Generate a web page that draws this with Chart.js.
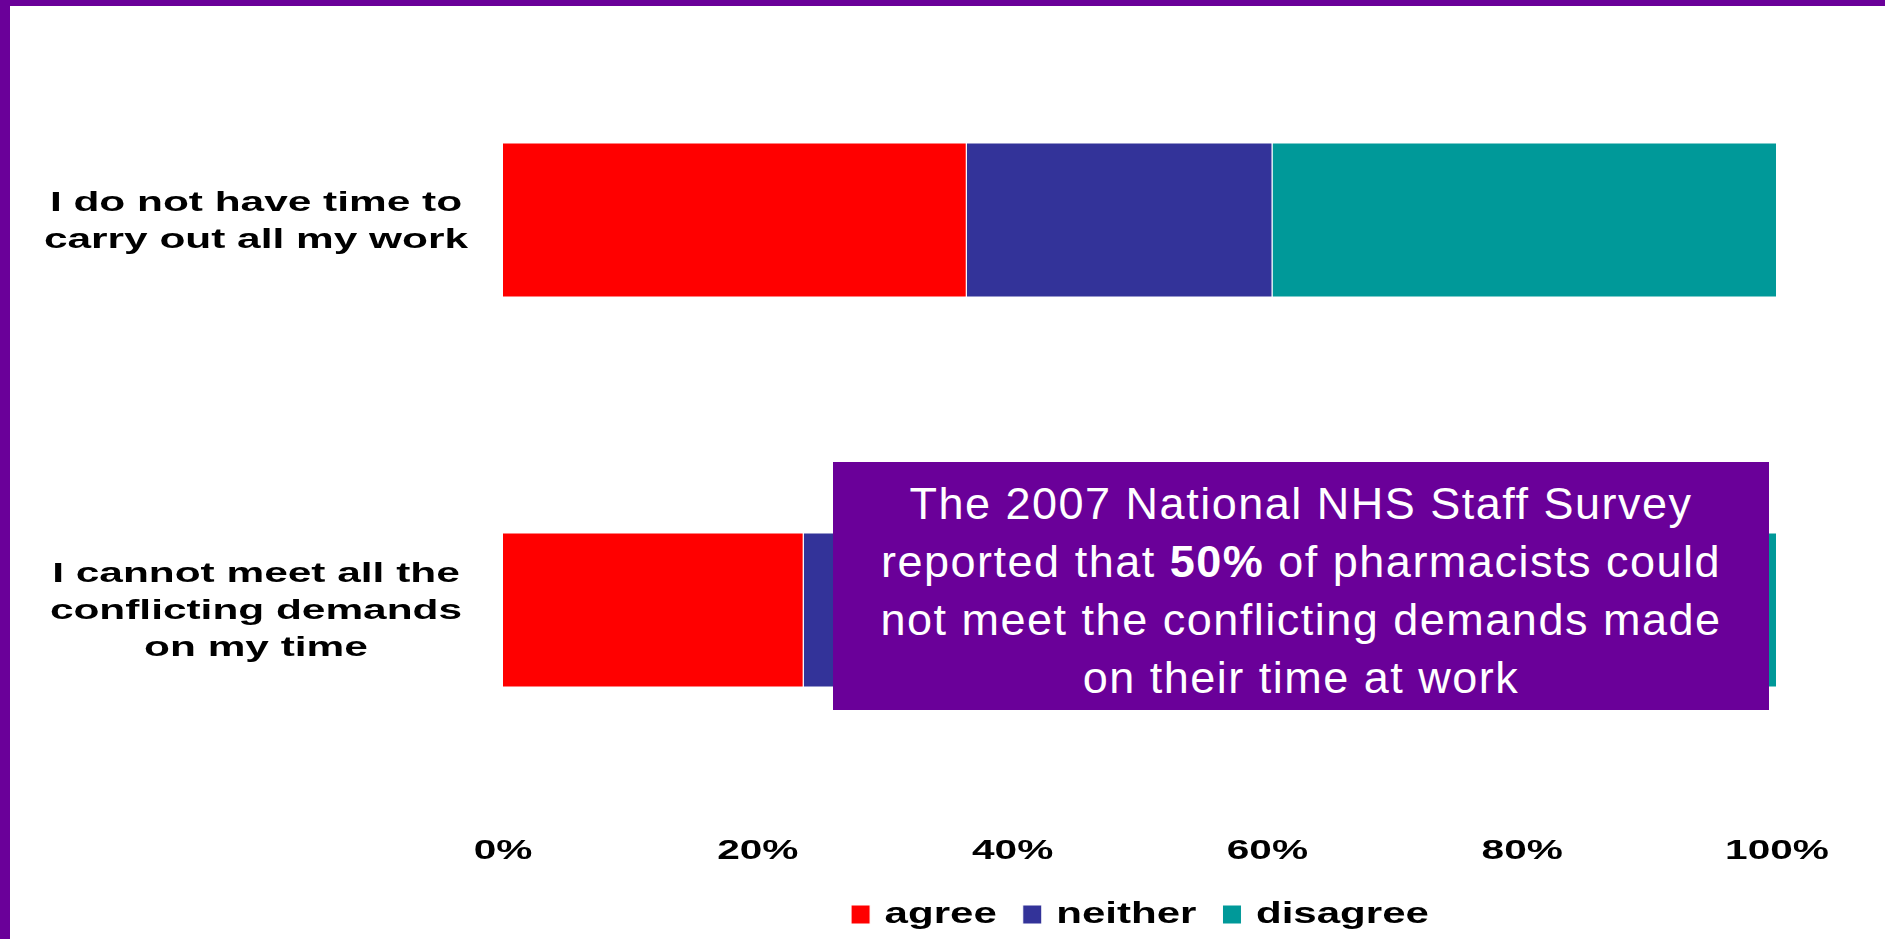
<!DOCTYPE html>
<html>
<head>
<meta charset="utf-8">
<script src="https://cdn.jsdelivr.net/npm/chart.js@4/dist/chart.umd.min.js"></script>
<style>
  html, body { margin: 0; padding: 0; background: #fff; }
  #page {
    position: relative;
    width: 1885px;
    height: 939px;
    overflow: hidden;
    background: #fff;
  }
  #frame {
    position: absolute;
    left: 0; top: 0;
    width: 1885px; height: 939px;
    box-sizing: border-box;
    border-left: 10px solid #6a0099;
    border-top: 6px solid #6a0099;
  }
  #chart { position: absolute; left: 0; top: 0; }
  #note {
    position: absolute;
    left: 833px; top: 462px;
    width: 936px; height: 248px;
    box-sizing: border-box;
    padding-top: 13px;
    background: #6a0099;
    color: #fff;
    font-family: "Liberation Sans", Arial, sans-serif;
    font-size: 45px;
    line-height: 58px;
    letter-spacing: 1.5px;
    text-align: center;
  }
</style>
</head>
<body>
<div id="page">
  <div id="frame"></div>
  <canvas id="chart" width="1885" height="939"></canvas>
  <div id="note">The 2007 National NHS Staff Survey<br>reported that <b>50%</b> of pharmacists could<br>not meet the conflicting demands made<br>on their time at work</div>
</div>
<script>
// survey statements (multi-line labels as drawn)
const statements = [
    ["I do not have time to", "carry out all my work"],
    ["I cannot meet all the", "conflicting demands", "on my time"]
];
const seriesNames = ["agree", "neither", "disagree"];
const seriesColors = ["#ff0000", "#333399", "#009999"];

// percent of respondents
const agree = [36.4, 23.6];
const neither = [24.0, 30.0];
const disagree = [39.6, 46.4];

const tickStep = 20;

// the chart text in the picture is stretched sideways
const stretchFor = (font) => font.includes('27px') ? 1.57 : 1.45;
const wideText = {
    id: 'wideText',
    beforeInit(chart) {
        const c = chart.ctx;
        const fill = c.fillText.bind(c);
        const measure = c.measureText.bind(c);
        c.fillText = function (text, x, y) {
            const sx = stretchFor(c.font);
            c.save();
            c.translate(x, y);
            c.scale(sx, 1);
            fill(text, 0, 0);
            c.restore();
        };
        c.measureText = function (text) {
            const m = measure(text);
            return {
                width: m.width * stretchFor(c.font),
                actualBoundingBoxAscent: m.actualBoundingBoxAscent,
                actualBoundingBoxDescent: m.actualBoundingBoxDescent
            };
        };
    }
};

const boldFont = "'Liberation Sans', Arial, sans-serif";
Chart.defaults.color = '#000';

const ctx = document.getElementById('chart');
const chart = new Chart(ctx, {
    type: 'bar',
    data: {
        labels: statements,
        datasets: [
            { label: seriesNames[0], data: agree, backgroundColor: seriesColors[0] },
            { label: seriesNames[1], data: neither, backgroundColor: seriesColors[1] },
            { label: seriesNames[2], data: disagree, backgroundColor: seriesColors[2] }
        ]
    },
    options: {
        indexAxis: 'y',
        responsive: false,
        animation: false,
        layout: { padding: { top: 25, right: 108, bottom: 0, left: 0 } },
        datasets: {
            bar: {
                barPercentage: 0.397,
                categoryPercentage: 1,
                borderColor: '#ffffff',
                borderWidth: 1
            }
        },
        scales: {
            x: {
                stacked: true,
                min: 0,
                max: 100,
                grid: { display: false, drawTicks: false },
                border: { display: false },
                ticks: {
                    stepSize: tickStep,
                    padding: 29,
                    font: { family: boldFont, size: 28, weight: 'bold' },
                    callback: (v) => v + '%'
                },
                afterFit: (scale) => { scale.height = 69; }
            },
            y: {
                stacked: true,
                grid: { display: false, drawTicks: false },
                border: { display: false },
                ticks: {
                    padding: 35,
                    labelOffset: 2,
                    crossAlign: 'center',
                    font: { family: boldFont, size: 27, weight: 'bold', lineHeight: 1.37 }
                },
                afterFit: (scale) => {
                    scale.width = 503;
                    scale.paddingTop = 0;
                    scale.paddingBottom = 0;
                }
            }
        },
        plugins: {
            legend: {
                position: 'bottom',
                fullSize: false,
                labels: {
                    boxWidth: 19,
                    boxHeight: 19,
                    padding: 26,
                    font: { family: boldFont, size: 29, weight: 'bold' }
                }
            },
            tooltip: { enabled: false }
        }
    },
    plugins: [wideText]
});
</script>
</body>
</html>
